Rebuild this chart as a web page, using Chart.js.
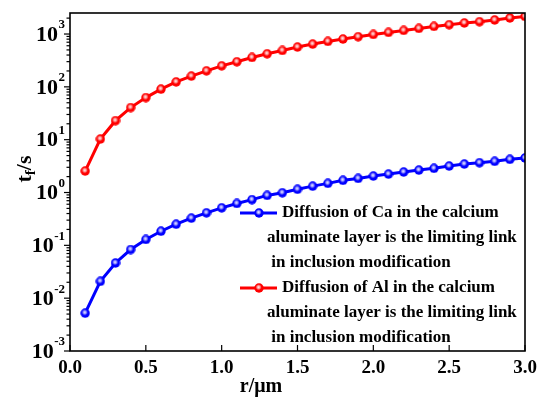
<!DOCTYPE html>
<html>
<head>
<meta charset="utf-8">
<script src="https://cdn.jsdelivr.net/npm/chart.js@4/dist/chart.umd.min.js"></script>
<style>
  html, body { margin: 0; padding: 0; background: #fff; }
  #wrap { width: 550px; height: 407px; position: relative; }
</style>
</head>
<body>
<div id="wrap"><canvas id="chart"></canvas></div>
<script>
// r / um
const radius = [0.1, 0.2, 0.3, 0.4, 0.5, 0.6, 0.7, 0.8, 0.9, 1.0,
                1.1, 1.2, 1.3, 1.4, 1.5, 1.6, 1.7, 1.8, 1.9, 2.0,
                2.1, 2.2, 2.3, 2.4, 2.5, 2.6, 2.7, 2.8, 2.9, 3.0];

// t_f / s, Ca diffusion limiting
const timeCa = [0.0052, 0.0208, 0.0464, 0.0832, 0.129, 0.185, 0.251, 0.327, 0.412, 0.513,
                0.621, 0.733, 0.881, 0.987, 1.15, 1.32, 1.49, 1.70, 1.85, 2.05,
                2.23, 2.44, 2.66, 2.87, 3.17, 3.46, 3.66, 3.89, 4.25, 4.50];

// t_f / s, Al diffusion limiting
const timeAl = [2.55, 10.3, 22.9, 40.5, 62.7, 90.4, 124, 160, 201, 250,
                298, 360, 423, 488, 567, 645, 724, 804, 889, 982,
                1072, 1170, 1277, 1394, 1501, 1617, 1711, 1845, 2012, 2158];

const xTicks = [0, 0.5, 1.0, 1.5, 2.0, 2.5, 3.0];
const yDecades = [-3, -2, -1, 0, 1, 2, 3];

const legendLines = [
    ['Diffusion of Ca in the calcium', 'aluminate layer is the limiting link', ' in inclusion modification'],
    ['Diffusion of Al in the calcium', 'aluminate layer is the limiting link', ' in inclusion modification']
];

const SERIF = "'Liberation Serif', 'Times New Roman', serif";

// little shaded ball used as marker
function makeBall(color) {
    const c = document.createElement('canvas');
    c.width = 10; c.height = 10;
    const g = c.getContext('2d');
    g.beginPath();
    g.arc(5, 5, 4.7, 0, Math.PI * 2);
    g.fillStyle = color;
    g.fill();
    const grad = g.createRadialGradient(4.6, 4.2, 0, 4.6, 4.2, 3);
    grad.addColorStop(0, 'rgba(255,255,255,0.95)');
    grad.addColorStop(0.5, 'rgba(255,255,255,0.6)');
    grad.addColorStop(1, 'rgba(255,255,255,0)');
    g.fillStyle = grad;
    g.fill();
    return c;
}

const blueBall = makeBall('#0000ff');
const redBall = makeBall('#ff0000');

const framePlugin = {
    id: 'frame',
    afterDraw(chart) {
        const ctx = chart.ctx;
        const area = chart.chartArea;
        const xs = chart.scales.x;
        const ys = chart.scales.y;
        ctx.save();

        // box
        ctx.strokeStyle = '#000';
        ctx.lineWidth = 1.6;
        ctx.strokeRect(area.left, area.top, area.right - area.left, area.bottom - area.top);

        // y ticks, outward
        ctx.lineWidth = 1.2;
        yDecades.forEach(k => {
            for (let m = 1; m <= 9; m++) {
                const v = m * Math.pow(10, k);
                if (v > ys.max) break;
                const py = ys.getPixelForValue(v);
                const len = m === 1 ? 6 : 3.5;
                ctx.beginPath();
                ctx.moveTo(area.left - len, py);
                ctx.lineTo(area.left, py);
                ctx.stroke();
            }
        });

        // x ticks, inward
        xTicks.forEach(v => {
            const px = xs.getPixelForValue(v);
            ctx.beginPath();
            ctx.moveTo(px, area.bottom);
            ctx.lineTo(px, area.bottom - 6);
            ctx.stroke();
        });

        // y labels 10^k
        ctx.fillStyle = '#000';
        ctx.textBaseline = 'middle';
        yDecades.forEach(k => {
            const py = ys.getPixelForValue(Math.pow(10, k));
            const exp = k < 0 ? '-' + (-k) : String(k);
            ctx.font = 'bold 13px ' + SERIF;
            const ew = ctx.measureText(exp).width;
            const right = 65;
            ctx.textAlign = 'left';
            ctx.fillText(exp, right - ew, py - 9);
            ctx.font = 'bold 22px ' + SERIF;
            ctx.textAlign = 'right';
            ctx.fillText('10', right - ew - 0.5, py + 1);
        });

        // y title t_f/s
        ctx.save();
        ctx.translate(24, 169);
        ctx.rotate(-Math.PI / 2);
        ctx.textAlign = 'left';
        ctx.textBaseline = 'alphabetic';
        ctx.font = 'bold 22px ' + SERIF;
        const wt = ctx.measureText('t').width;
        const ws = ctx.measureText('/s').width;
        ctx.font = 'bold 15px ' + SERIF;
        const wf = ctx.measureText('f').width;
        let cx = -(wt + wf + ws) / 2;
        ctx.font = 'bold 22px ' + SERIF;
        ctx.fillText('t', cx, 7);
        cx += wt;
        ctx.font = 'bold 15px ' + SERIF;
        ctx.fillText('f', cx, 11);
        cx += wf;
        ctx.font = 'bold 22px ' + SERIF;
        ctx.fillText('/s', cx, 7);
        ctx.restore();

        // x title
        ctx.font = 'bold 20px ' + SERIF;
        ctx.textAlign = 'center';
        ctx.textBaseline = 'middle';
        ctx.fillText('r/\u03bcm', 261, 387);

        // legend
        const entries = [
            { color: '#0000ff', ball: blueBall, y: 213 },
            { color: '#ff0000', ball: redBall, y: 288 }
        ];
        entries.forEach((e, i) => {
            ctx.strokeStyle = e.color;
            ctx.lineWidth = 3;
            ctx.beginPath();
            ctx.moveTo(240, e.y);
            ctx.lineTo(277, e.y);
            ctx.stroke();
            ctx.drawImage(e.ball, 254, e.y - 5);
            ctx.fillStyle = '#000';
            ctx.font = 'bold 17px ' + SERIF;
            ctx.textAlign = 'left';
            ctx.textBaseline = 'middle';
            const lines = legendLines[i];
            ctx.fillText(lines[0], 282, e.y);
            ctx.fillText(lines[1], 267, e.y + 25);
            ctx.fillText(lines[2], 267, e.y + 50);
        });

        ctx.restore();
    }
};

new Chart(document.getElementById('chart'), {
    type: 'line',
    data: {
        datasets: [
            {
                label: 'Ca',
                data: radius.map((r, i) => ({ x: r, y: timeCa[i] })),
                borderColor: '#0000ff',
                borderWidth: 3,
                pointStyle: blueBall,
                pointRadius: 5,
                tension: 0
            },
            {
                label: 'Al',
                data: radius.map((r, i) => ({ x: r, y: timeAl[i] })),
                borderColor: '#ff0000',
                borderWidth: 3,
                pointStyle: redBall,
                pointRadius: 5,
                tension: 0
            }
        ]
    },
    options: {
        responsive: true,
        maintainAspectRatio: false,
        animation: false,
        layout: { padding: { top: 13, right: 25, left: 0, bottom: 0 } },
        plugins: {
            legend: { display: false },
            tooltip: { enabled: false }
        },
        scales: {
            x: {
                type: 'linear',
                min: 0,
                max: 3,
                afterBuildTicks: s => { s.ticks = xTicks.map(v => ({ value: v })); },
                afterFit: s => { s.height = 56; },
                ticks: {
                    callback: v => v.toFixed(1),
                    color: '#000',
                    padding: 6,
                    maxRotation: 0,
                    font: { family: SERIF, weight: 'bold', size: 19 }
                },
                grid: { display: false, drawTicks: false },
                border: { display: false }
            },
            y: {
                type: 'logarithmic',
                min: 0.001,
                max: 2500,
                afterFit: s => { s.width = 70; },
                ticks: { display: false },
                grid: { display: false, drawTicks: false },
                border: { display: false }
            }
        }
    },
    plugins: [framePlugin]
});
</script>
</body>
</html>
